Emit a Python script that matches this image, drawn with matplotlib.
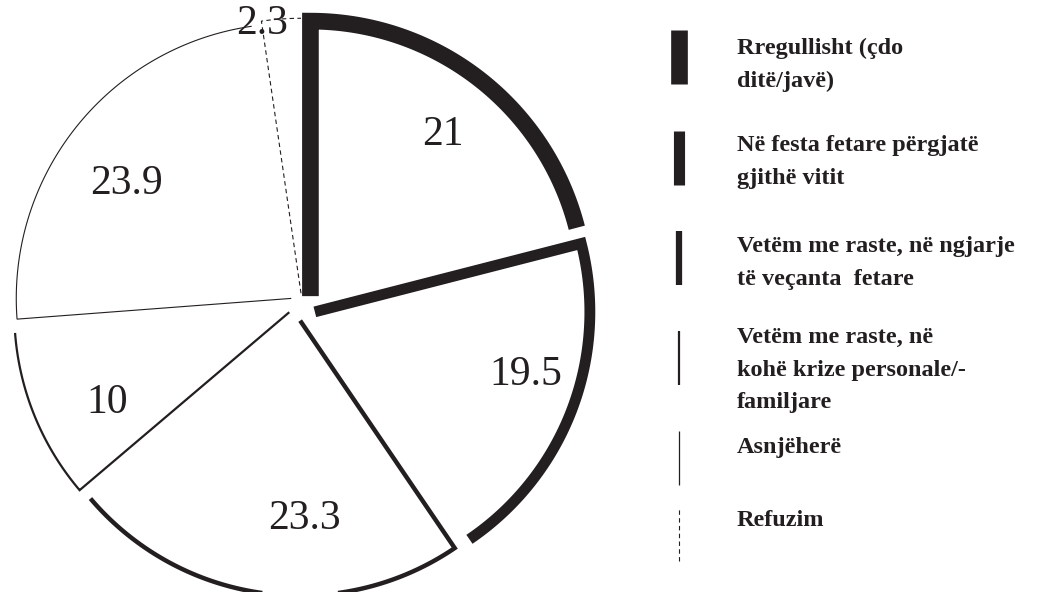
import numpy as np
import matplotlib
matplotlib.use("Agg")
import matplotlib.pyplot as plt
from matplotlib.lines import Line2D

categories = ["Rregullisht (çdo\nditë/javë)",
              "Në festa fetare përgjatë\ngjithë vitit",
              "Vetëm me raste, në ngjarje\ntë veçanta  fetare",
              "Vetëm me raste, në\nkohë krize personale/-\nfamiljare",
              "Asnjëherë",
              "Refuzim"]
values = [21, 19.5, 23.3, 10, 23.9, 2.3]
value_labels = ["21", "19.5", "23.3", "10", "23.9", "2.3"]

# styling per slice
ink = "#231f20"
widths = [12, 7.8, 3.2, 1.6, 0.8, 0.8]
styles = ["-", "-", "-", "-", "-", (0, (4, 3))]
label_dist = [0.76, 0.80, 0.72, 0.74, 0.73, 0.99]
label_shift = [-1.5, 4, 9, 4, 4, 4]   # degrees

W, H = 1043, 592
fig = plt.figure(figsize=(W / 100, H / 100), dpi=100)
fig.patch.set_facecolor("white")

# pie axes: center at (302, 285) px from bottom-left, radius 275 px
R = 275.0
cx, cy = 302.0, 285.0
ax = fig.add_axes([0, 0, 2 * cx / W, 1])
wedges, _ = ax.pie(values, startangle=90, counterclock=False,
                   explode=[0.05] * len(values),
                   colors=["white"] * len(values),
                   wedgeprops=dict(linewidth=0))
ax.set_aspect("auto")
ax.set_xlim(-cx / R, cx / R)
ax.set_ylim(-cy / R, (H - cy) / R)
ax.axis("off")

for i, w in enumerate(wedges):
    x0, y0 = w.center
    # outline: only the leading edge + the arc (clockwise)
    th = np.deg2rad(np.linspace(w.theta2, w.theta1, 120))
    xs = np.r_[x0, x0 + w.r * np.cos(th)]
    ys = np.r_[y0, y0 + w.r * np.sin(th)]
    ax.plot(xs, ys, color=ink, lw=widths[i], linestyle=styles[i],
            solid_joinstyle="miter", solid_capstyle="butt",
            dash_capstyle="butt", zorder=3)
    mid = np.deg2rad((w.theta1 + w.theta2) / 2 + label_shift[i])
    d = label_dist[i] * w.r
    ax.text(x0 + d * np.cos(mid), y0 + d * np.sin(mid), value_labels[i],
            ha="center", va="center", fontsize=30, color=ink,
            family="Liberation Serif", zorder=5)

# legend drawn by hand on the right
leg_top = [30, 131, 231, 331, 431, 507]
txt_top = [38, 135, 236, 327, 437, 510]
for i, name in enumerate(categories):
    ytop = 1 - leg_top[i] / H
    ybot = 1 - (leg_top[i] + 54) / H
    fig.add_artist(Line2D([679 / W, 679 / W], [ybot, ytop], color=ink,
                          lw=[12, 8, 4.5, 1.6, 0.9, 0.8][i], linestyle=styles[i],
                          solid_capstyle="butt", dash_capstyle="butt"))
    fig.text(737 / W, 1 - txt_top[i] / H, name, ha="left", va="top",
             fontsize=17.5, fontweight="bold", color=ink,
             family="Liberation Serif", linespacing=1.72)

fig.savefig("out.png", dpi=100, facecolor="white")
